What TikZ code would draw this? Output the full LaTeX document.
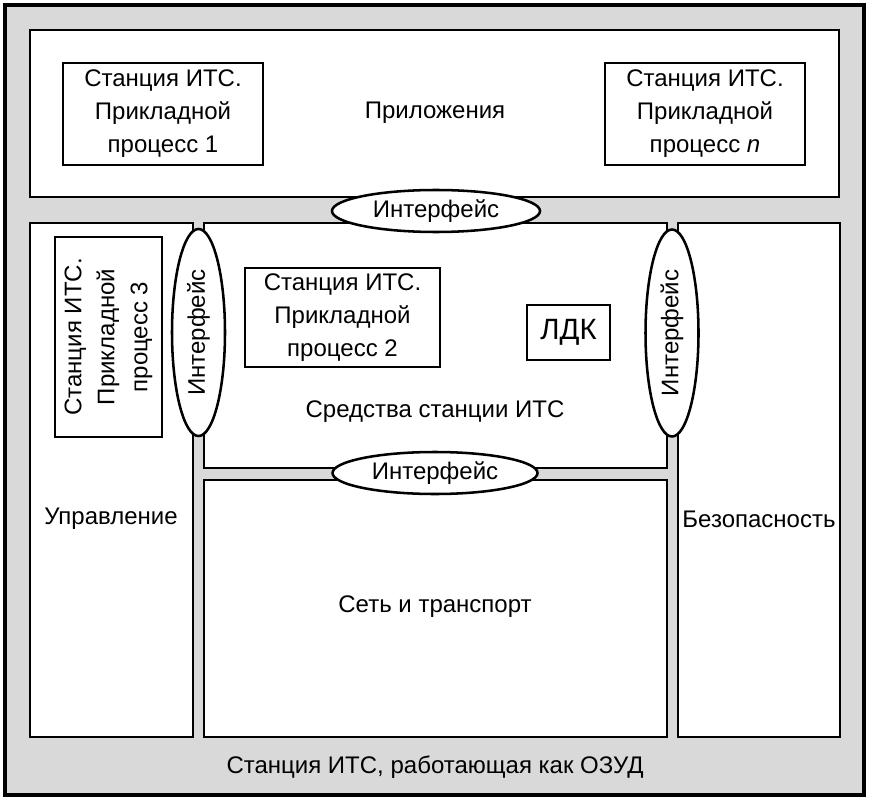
\documentclass[tikz,border=0pt]{standalone}
\usepackage{fontspec}
\setmainfont{Liberation Sans}
\usetikzlibrary{shapes.geometric}
\definecolor{bggray}{RGB}{217,217,217}
\tikzset{
  px/.style={x=0.75pt,y=-0.75pt},
  panel/.style={draw=black,line width=2.2pt,fill=white,rectangle,inner sep=0pt},
  procbox/.style={draw=black,line width=2.2pt,fill=white,rectangle,inner sep=0pt,align=center,
    font=\fontsize{18}{24.75}\selectfont},
  iface/.style={draw=black,line width=1.9pt,fill=white,ellipse,inner sep=0pt,
    font=\fontsize{18}{20}\selectfont},
  lbl/.style={inner sep=0pt,font=\fontsize{18}{20}\selectfont}
}
\begin{document}
\begin{tikzpicture}[px]
\useasboundingbox (0,0) rectangle (870,802);
% outer frame
\node[draw=black,line width=3pt,fill=bggray,rectangle,inner sep=0pt,
  minimum width=859*0.75pt,minimum height=790*0.75pt] (outer) at (434.5,400) {};
% panels
\node[panel,minimum width=809*0.75pt,minimum height=167*0.75pt] (apps) at (434.5,113.5) {};
\node[panel,minimum width=163*0.75pt,minimum height=514*0.75pt] (mgmt) at (111.5,480) {};
\node[panel,minimum width=463*0.75pt,minimum height=245*0.75pt] (fac) at (435.5,345.5) {};
\node[panel,minimum width=463*0.75pt,minimum height=257*0.75pt] (net) at (435.5,608.5) {};
\node[panel,minimum width=162*0.75pt,minimum height=514*0.75pt] (sec) at (759,480) {};
% process boxes
\node[procbox,minimum width=200*0.75pt,minimum height=102*0.75pt] (p1) at (163,114)
  {Станция ИТС.\\Прикладной\\процесс 1};
\node[procbox,minimum width=200*0.75pt,minimum height=102*0.75pt] (pn) at (705,114)
  {Станция ИТС.\\Прикладной\\процесс \textit{n}};
\node[procbox,minimum width=195*0.75pt,minimum height=99*0.75pt] (p2) at (342.5,317.5)
  {Станция ИТС.\\Прикладной\\процесс 2};
\node[procbox,rotate=90,minimum width=200*0.75pt,minimum height=107*0.75pt] (p3) at (108.5,337)
  {Станция ИТС.\\Прикладной\\процесс 3};
\node[procbox,minimum width=83*0.75pt,minimum height=55*0.75pt,
  font=\fontsize{22}{24}\selectfont] (ldk) at (568.5,332.5) {ЛДК};
% interfaces
\node[iface,minimum width=208*0.75pt,minimum height=42*0.75pt] (i1) at (436,211) {Интерфейс};
\node[iface,minimum width=205*0.75pt,minimum height=42*0.75pt] (i2) at (435,473) {Интерфейс};
\node[iface,rotate=90,minimum width=207*0.75pt,minimum height=53*0.75pt] (i3) at (198.5,332.5) {Интерфейс};
\node[iface,rotate=90,minimum width=207*0.75pt,minimum height=53*0.75pt] (i4) at (672,333) {Интерфейс};
% labels
\node[lbl] (tapps) at (435,113) {Приложения};
\node[lbl] (tfac) at (435,412) {Средства станции ИТС};
\node[lbl] (tmgmt) at (111,519) {Управление};
\node[lbl] (tsec) at (759,519) {Безопасность};
\node[lbl] (tnet) at (435,607) {Сеть и транспорт};
\node[lbl] (touter) at (435,767) {Станция ИТС, работающая как ОЗУД};
\end{tikzpicture}
\end{document}
